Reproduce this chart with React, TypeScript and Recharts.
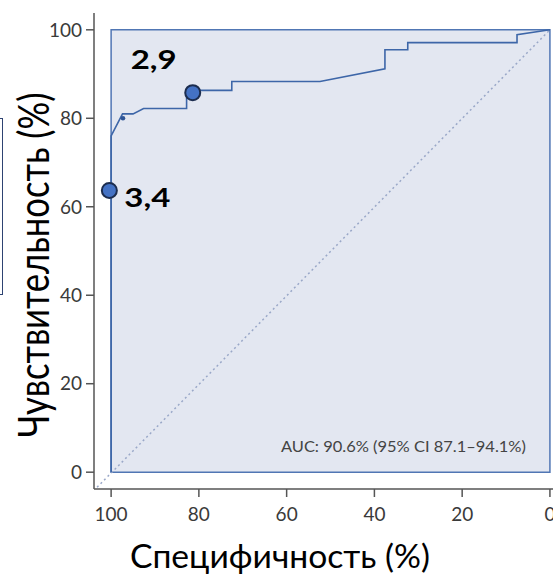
import React from 'react';
import { ComposedChart, Line, Scatter, XAxis, YAxis, ReferenceArea, Label } from 'recharts';

// ROC curve (specificity %, sensitivity %)
const rocSpecificity = [100, 100, 97.4, 95, 92.6, 82.8, 82.8, 72.5, 72.5, 52.4, 37.6, 37.6, 32.4, 32.4, 7.5, 7.5, 0];
const rocSensitivity = [0, 76, 81, 81, 82.2, 82.2, 86.3, 86.3, 88.3, 88.3, 91.2, 95.5, 95.5, 97.1, 97.1, 98.9, 100];

// Chance diagonal
const diagSpecificity = [103.2, 0];
const diagSensitivity = [-3.4, 100];

// Cut-off points
const cutSpecificity = [81.4, 100.4];
const cutSensitivity = [85.8, 63.7];
const cutLabels = ['2,9', '3,4'];

// Minor marker
const minorSpecificity = [97.3];
const minorSensitivity = [80];

const tickValues = [0, 20, 40, 60, 80, 100];
const xAxisTitle = 'Специфичность (%)';
const yAxisTitle = 'Чувствительность (%)';
const aucText = 'AUC: 90.6% (95% CI 87.1–94.1%)';

const rocData = rocSpecificity.map((s, i) => ({ spec: s, sens: rocSensitivity[i] }));
const diagData = diagSpecificity.map((s, i) => ({ spec: s, sens: diagSensitivity[i] }));
const cutData = cutSpecificity.map((s, i) => ({ spec: s, sens: cutSensitivity[i], label: cutLabels[i] }));
const minorData = minorSpecificity.map((s, i) => ({ spec: s, sens: minorSensitivity[i] }));

const labelOffsets: Record<string, [number, number]> = {
  '2,9': [-39, -34],
  '3,4': [38, 7],
};

const FONT = 'Lato, "Open Sans", sans-serif';

const CutShape = (props: any) => {
  const { cx, cy, payload } = props;
  const off = labelOffsets[payload.label] || [0, 0];
  return (
    <g>
      <circle cx={cx} cy={cy} r={7.5} fill="#4472c4" stroke="#1c2d4f" strokeWidth={2} />
      <text
        x={cx + off[0]}
        y={cy + off[1]}
        textAnchor="middle"
        dominantBaseline="central"
        fontFamily={FONT}
        fontWeight={700}
        fontSize={26}
        fill="#000"
        textLength={46}
        lengthAdjust="spacingAndGlyphs"
      >
        {payload.label}
      </text>
    </g>
  );
};

const MinorShape = (props: any) => {
  const { cx, cy } = props;
  return <circle cx={cx} cy={cy} r={2.3} fill="#2f5597" />;
};

export default function App() {
  return (
    <div style={{ position: 'absolute', left: 0, top: 0, width: 553, height: 574, background: '#fff', overflow: 'hidden' }}>
      <div
        style={{
          position: 'absolute',
          left: 0,
          top: 118,
          width: 2,
          height: 175,
          borderRight: '1.5px solid #2e4372',
          borderTop: '1px solid #2e4372',
          borderBottom: '1px solid #2e4372',
        }}
      />
      <ComposedChart width={553} height={574} margin={{ top: 13, right: 0, bottom: 0, left: 0 }}>
        <XAxis
          type="number"
          dataKey="spec"
          domain={[-0.7, 103.9]}
          reversed
          ticks={tickValues}
          interval={0}
          allowDataOverflow
          height={85}
          axisLine={{ stroke: '#555', strokeWidth: 1.5 }}
          tickLine={{ stroke: '#555', strokeWidth: 1.5 }}
          tickSize={8}
          tickMargin={11}
          tick={{ fontSize: 19, fill: '#3a3a3a', fontFamily: FONT }}
        >
          <Label
            content={() => (
              <text
                x={280}
                y={568}
                textAnchor="middle"
                fontFamily={FONT}
                fontSize={32}
                fill="#000"
                textLength={300}
                lengthAdjust="spacingAndGlyphs"
              >
                {xAxisTitle}
              </text>
            )}
          />
        </XAxis>
        <YAxis
          type="number"
          dataKey="sens"
          domain={[-3.8, 103.8]}
          ticks={tickValues}
          interval={0}
          allowDataOverflow
          width={94}
          axisLine={{ stroke: '#555', strokeWidth: 1.5 }}
          tickLine={{ stroke: '#555', strokeWidth: 1.5 }}
          tickSize={8}
          tickMargin={4}
          tick={{ fontSize: 19, fill: '#3a3a3a', fontFamily: FONT }}
        >
          <Label
            content={() => (
              <text
                transform="translate(49,265) rotate(-90)"
                textAnchor="middle"
                fontFamily={FONT}
                fontSize={43}
                fill="#000"
                textLength={345}
                lengthAdjust="spacingAndGlyphs"
              >
                {yAxisTitle}
              </text>
            )}
          />
        </YAxis>
        <ReferenceArea
          x1={0}
          x2={100}
          y1={0}
          y2={100}
          fill="#e3e7f1"
          fillOpacity={1}
          stroke="#5076b4"
          strokeWidth={1.5}
          ifOverflow="visible"
          label={(p: any) => {
            const vb = p.viewBox || {};
            return (
              <text
                x={vb.x + vb.width - 24}
                y={vb.y + vb.height - 26}
                textAnchor="end"
                dominantBaseline="central"
                fontFamily={FONT}
                fontSize={14.5}
                fill="#444"
                textLength={245}
                lengthAdjust="spacingAndGlyphs"
              >
                {aucText}
              </text>
            );
          }}
        />
        <Line
          data={diagData}
          dataKey="sens"
          type="linear"
          stroke="#9aa8c8"
          strokeWidth={1.5}
          strokeDasharray="2 3"
          dot={false}
          activeDot={false}
          isAnimationActive={false}
        />
        <Line
          data={rocData}
          dataKey="sens"
          type="linear"
          stroke="#3d66a8"
          strokeWidth={1.6}
          dot={false}
          activeDot={false}
          isAnimationActive={false}
        />
        <Scatter data={minorData} dataKey="sens" shape={<MinorShape />} isAnimationActive={false} />
        <Scatter data={cutData} dataKey="sens" shape={<CutShape />} isAnimationActive={false} />
      </ComposedChart>
    </div>
  );
}
